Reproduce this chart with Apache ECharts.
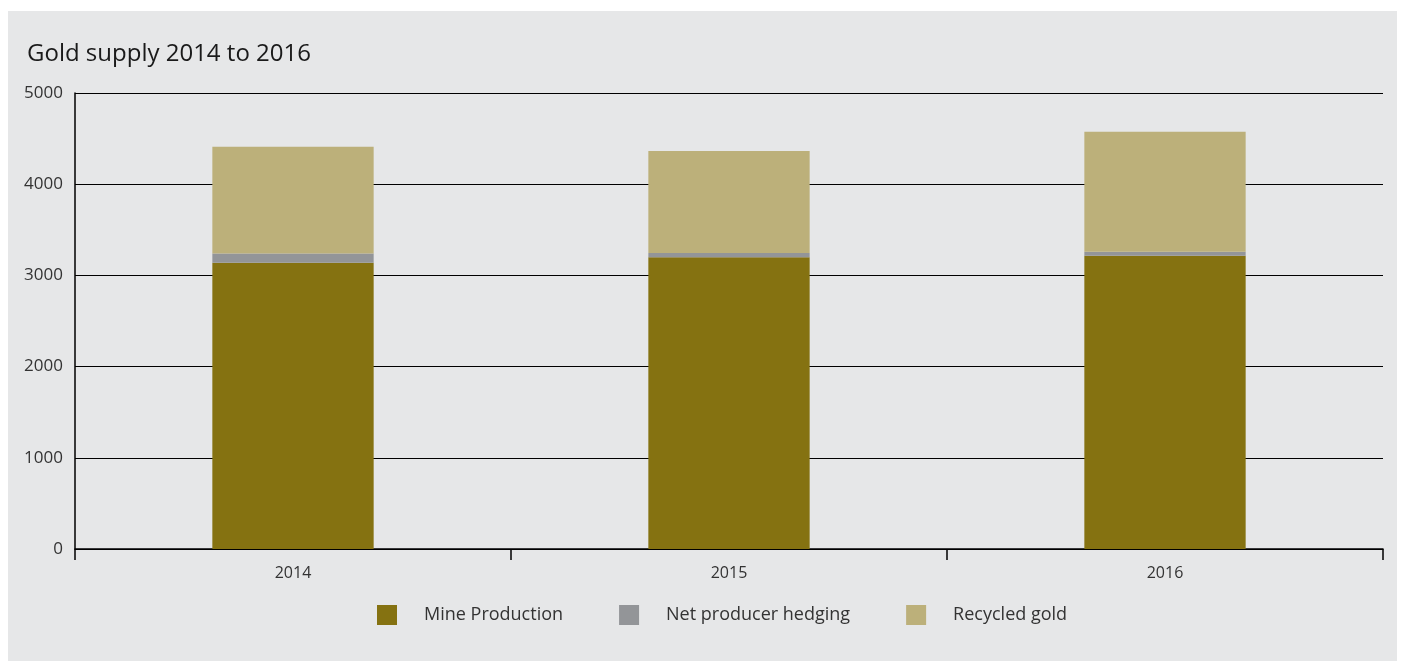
<!DOCTYPE html>
<html>
<head>
<meta charset="utf-8">
<script src="https://cdn.jsdelivr.net/npm/echarts@6/dist/echarts.min.js"></script>
<style>
	html,body{margin:0;padding:0;background:#fff;}
	#panel{position:absolute;left:8px;top:11px;width:1389px;height:650px;background:#e6e7e8;}
	#main{position:absolute;left:0;top:0;width:1404px;height:661px;}
</style>
</head>
<body>
<div id="panel"></div>
<div id="main"></div>
<script>
	// 数据
	var years = ['2014', '2015', '2016'];
	var mineProduction = [3140, 3200, 3215];
	var netHedging = [100, 45, 45];
	var recycledGold = [1170, 1120, 1315];

	var myChart = echarts.init(document.getElementById('main'));
	var font = '"Open Sans", "Noto Sans", sans-serif';
	var option = {
		backgroundColor: 'transparent',
		title: {
			text: 'Gold supply 2014 to 2016',
			left: 22,
			top: 37,
			textStyle: {
				fontFamily: font,
				fontSize: 24,
				fontWeight: 'normal',
				color: '#1a1a1a'
			}
		},
		legend: {
			data: ['Mine Production', 'Net producer hedging', 'Recycled gold'],
			left: 372,
			top: 600,
			itemWidth: 20,
			itemHeight: 20,
			itemGap: 56,
			icon: 'rect',
			textStyle: {
				fontFamily: font,
				fontSize: 18,
				color: '#333',
				padding: [0, 0, 0, 22]
			}
		},
		grid: {
			left: 75,
			right: 21,
			top: 93,
			bottom: 112
		},
		xAxis: {
			type: 'category',
			data: years,
			axisLine: {lineStyle: {color: '#000', width: 1.5}},
			axisTick: {show: true, length: 11, lineStyle: {color: '#000', width: 1.5}},
			axisLabel: {
				fontFamily: font,
				fontSize: 16,
				color: '#333',
				margin: 16
			}
		},
		yAxis: {
			type: 'value',
			min: 0,
			max: 5000,
			interval: 1000,
			axisLine: {show: true, lineStyle: {color: '#000', width: 1.5}},
			axisTick: {show: false},
			splitLine: {lineStyle: {color: '#000', width: 1}},
			axisLabel: {
				fontFamily: font,
				fontSize: 17,
				color: '#333',
				margin: 12,
				formatter: function (v) { return String(v); }
			}
		},
		series: [
			{
				name: 'Mine Production',
				type: 'bar',
				stack: 'supply',
				barWidth: '37%',
				color: '#857211',
				data: mineProduction
			},
			{
				name: 'Net producer hedging',
				type: 'bar',
				stack: 'supply',
				color: '#939598',
				data: netHedging
			},
			{
				name: 'Recycled gold',
				type: 'bar',
				stack: 'supply',
				color: '#bcb07a',
				data: recycledGold
			}
		]
	};
	myChart.setOption(option);
</script>
</body>
</html>
